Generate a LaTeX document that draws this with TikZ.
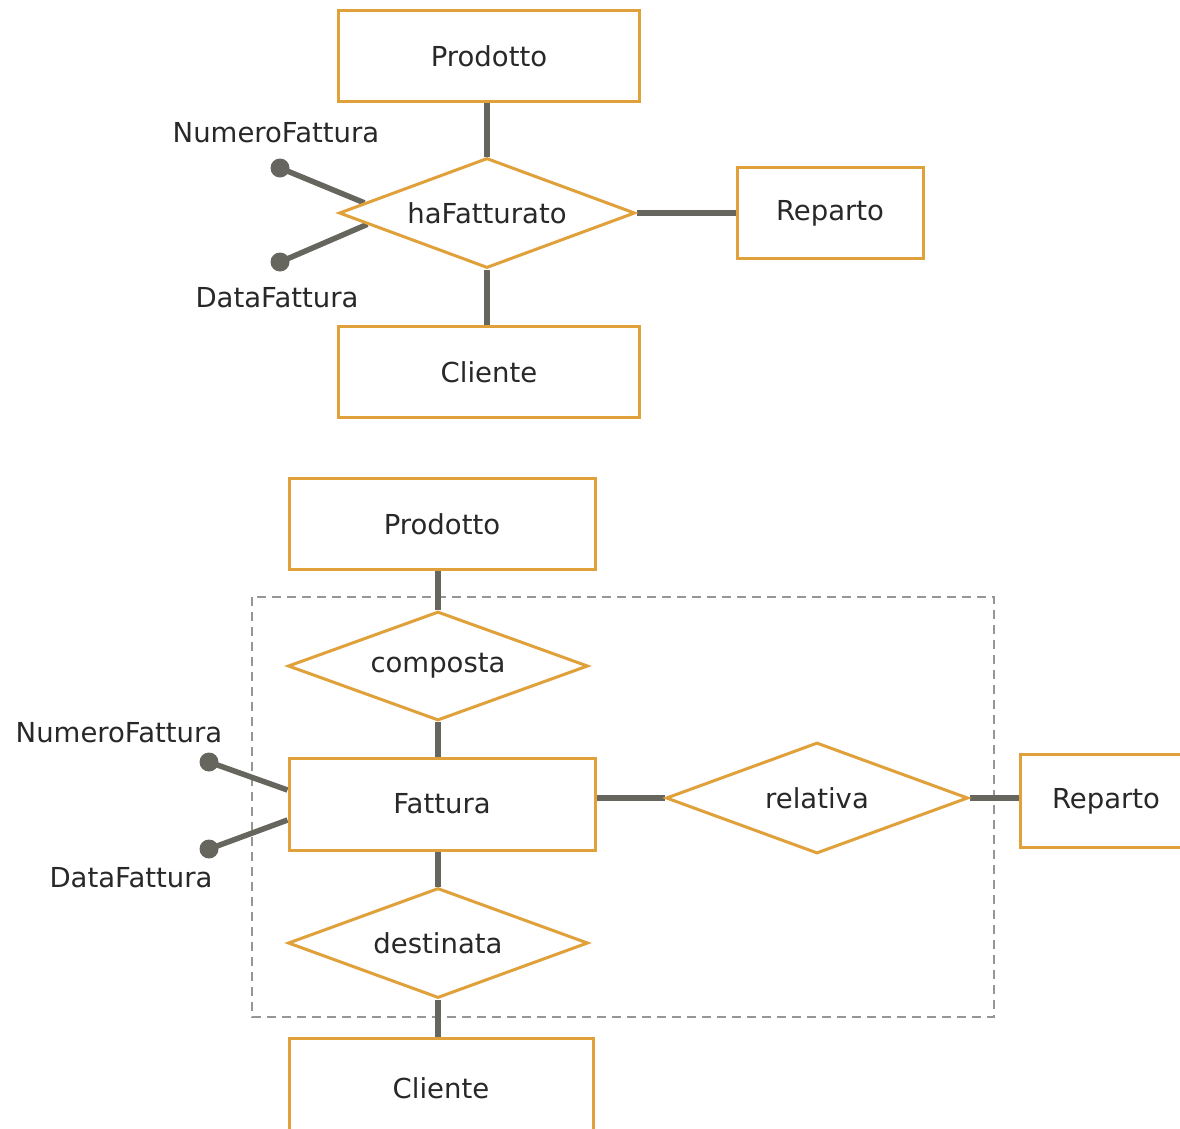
\documentclass[tikz,border=0pt]{standalone}
\usepackage{fontspec}
\setmainfont{DejaVu Sans}
\usetikzlibrary{shapes.geometric,calc,backgrounds}
\definecolor{erorange}{RGB}{224,160,58}
\definecolor{ergray}{RGB}{102,102,94}
\definecolor{ertext}{RGB}{40,40,40}
\definecolor{erdash}{RGB}{150,150,150}
\tikzset{
  ent/.style={draw=erorange, line width=3pt, fill=white, rectangle, inner sep=0pt,
    text=ertext, font=\fontsize{27.5}{31}\selectfont},
  rel/.style={draw=erorange, line width=3pt, fill=white, diamond, aspect=2.7, inner sep=0pt,
    minimum width=296pt, minimum height=110pt, text=ertext, font=\fontsize{27.5}{31}\selectfont},
  conn/.style={draw=ergray, line width=5.5pt},
  attrdot/.style={circle, fill=ergray, inner sep=0pt, minimum size=19pt},
  attrlbl/.style={text=ertext, font=\fontsize{27.5}{31}\selectfont, inner sep=0pt},
  grp/.style={draw=erdash, line width=2.5pt, dash pattern=on 9pt off 6pt}
}
\begin{document}
\begin{tikzpicture}[x=1pt,y=-1pt]
\useasboundingbox (0,0) rectangle (1180,1128);
\clip (0,0) rectangle (1180,1128);

% ---------- top diagram ----------
\node[ent, minimum width=301pt, minimum height=91pt] (p1) at (489,56) {Prodotto};
\node[rel] (hf) at (487,213) {haFatturato};
\node[ent, minimum width=186pt, minimum height=91pt] (r1) at (830,213) {Reparto};
\node[ent, minimum width=301pt, minimum height=91pt] (c1) at (489,372) {Cliente};
\node[attrdot] (nf1) at (280,168) {};
\node[attrdot] (df1) at (280,262) {};
\node[attrlbl] (nf1l) at (276,133) {NumeroFattura};
\node[attrlbl] (df1l) at (277,298) {DataFattura};

% ---------- bottom diagram ----------
\node[ent, minimum width=306pt, minimum height=91pt] (p2) at (442,524) {Prodotto};
\node[rel, minimum width=300pt, minimum height=109pt] (cp) at (438,666) {composta};
\node[ent, minimum width=306pt, minimum height=92pt] (fa) at (442,804) {Fattura};
\node[rel, minimum width=302pt, minimum height=111pt] (rl) at (817,798) {relativa};
\node[ent, minimum width=172pt, minimum height=93pt] (r2) at (1106,801) {Reparto};
\node[rel, minimum width=300pt, minimum height=110pt] (de) at (438,943) {destinata};
\node[ent, minimum width=304pt, minimum height=100pt] (c2) at (441,1088) {Cliente};
\node[attrdot] (nf2) at (209,762) {};
\node[attrdot] (df2) at (209,849) {};
\node[attrlbl] (nf2l) at (119,733) {NumeroFattura};
\node[attrlbl] (df2l) at (131,878) {DataFattura};

% ---------- connectors and group (behind nodes) ----------
\begin{scope}[on background layer]
\fill[white] (0,0) rectangle (1180,1128);
\draw[grp] (252,597) rectangle (994,1017);
% top
\draw[conn] (hf.north) -- (hf.north |- p1.south);
\draw[conn] (hf.south) -- (hf.south |- c1.north);
\draw[conn] (hf.east) -- (r1.west);
\draw[conn] (nf1.center) -- ($(hf.west)!0.18!(hf.north)$);
\draw[conn] (df1.center) -- ($(hf.west)!0.2!(hf.south)$);
% bottom
\draw[conn] (cp.north) -- (cp.north |- p2.south);
\draw[conn] (cp.south) -- (cp.south |- fa.north);
\draw[conn] (de.north) -- (de.north |- fa.south);
\draw[conn] (de.south) -- (de.south |- c2.north);
\draw[conn] (fa.east |- rl.west) -- (rl.west);
\draw[conn] (rl.east) -- (rl.east -| r2.west);
\draw[conn] (nf2.center) -- ($(fa.west)+(0,-14)$);
\draw[conn] (df2.center) -- ($(fa.west)+(0,16)$);
\end{scope}
\end{tikzpicture}
\end{document}
